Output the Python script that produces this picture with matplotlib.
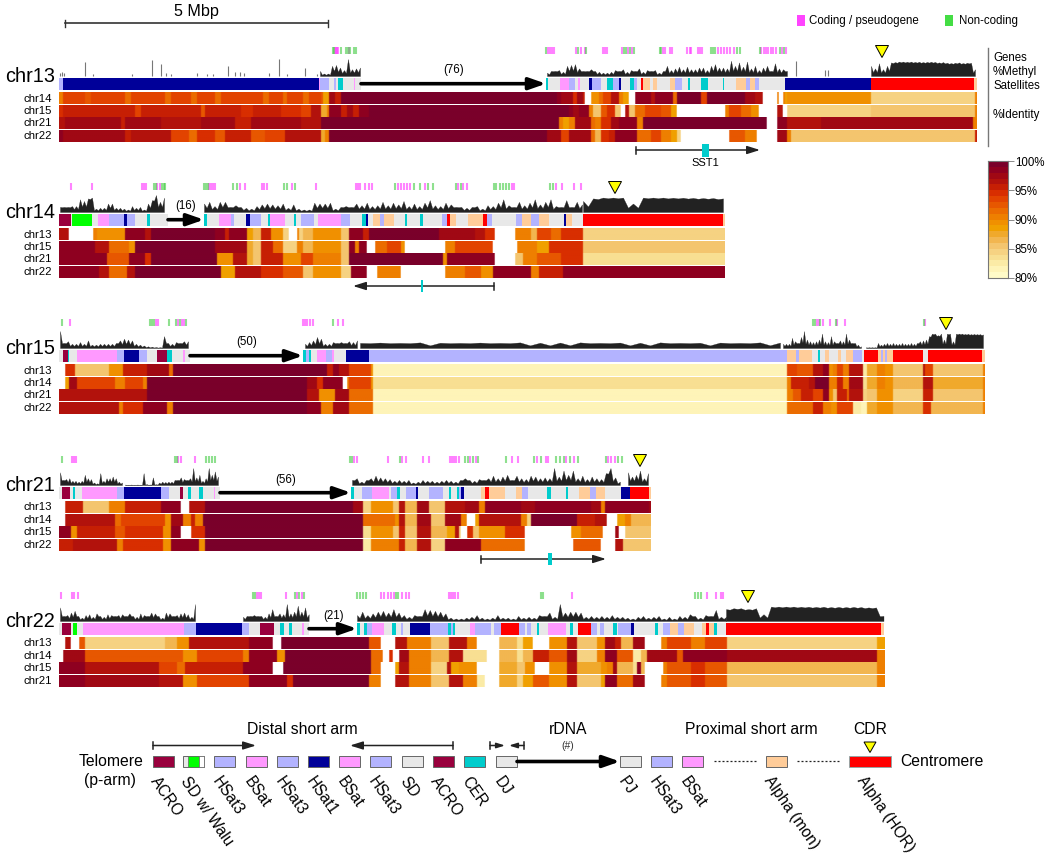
import numpy as np
import matplotlib
matplotlib.use('Agg')
import matplotlib.pyplot as plt
from matplotlib.colors import ListedColormap, Normalize

plt.rcParams['font.family'] = ['Liberation Sans', 'DejaVu Sans']

# x unit everywhere: 1 bin = 19 kb
BIN_KB = 19.0
NA = None
SD, WALU, HS3, BS, HS1, ACRO, CER, MON, HOR = 'SD', 'WALU', 'HS3', 'BS', 'HS1', 'ACRO', 'CER', 'MON', 'HOR'
SAT_COLORS = {SD: '#E8E8E8', WALU: '#00FF00', HS3: '#B3B3FF', BS: '#FF99FF', HS1: '#000099',
              ACRO: '#99003D', CER: '#00CCCC', MON: '#FFCC99', HOR: '#FF0000'}
ID_LEVELS = ['#FFFBC8', '#FEF4B8', '#FBEBA6', '#F8DF92', '#F6D282', '#F4C56E', '#F2B650', '#F0A92C',
             '#F0A000', '#F09000', '#EE7F00', '#EB6C00', '#E75700', '#E24300', '#D82E00', '#C61F04',
             '#B2120C', '#A00814', '#8E0020', '#7A002A']

# ---- chr13 ----
chr13_sat = [(63, HS3), (319, HS1), (320, BS), (329, HS3), (334, SD), (336, HS3), (338, SD), (343, CER), (354, SD), (355, BS), (361, SD),
             (546, NA), (548, CER), (550, SD), (560, SD), (569, BS), (575, HS3), (578, SD), (580, BS), (589, SD), (592, HS1), (601, HS3),
             (607, SD), (613, CER), (619, HS3), (621, HS1), (630, SD), (634, CER), (637, HS3), (641, SD), (643, HOR), (650, MON), (653, SD),
             (657, MON), (670, SD), (675, MON), (682, HS3), (688, SD), (690, CER), (701, SD), (708, CER), (723, SD), (724, CER), (736, SD),
             (746, MON), (750, HS3), (755, MON), (759, HS3), (785, SD), (871, HS1), (974, HOR), (977, MON)]
chr13_r14 = [(62, 90), (85, 93), (90, 92), (125, 93), (130, 91), (165, 93), (170, 91), (190, 93), (196, 91), (214, 93), (220, 91), (262, 93),
             (268, 91), (282, 93), (287, 91), (302, 93), (308, 91), (320, 93), (322, 92), (328, 88), (335, 97), (340, 95), (556, 100), (560, 98),
             (572, 97), (576, 94), (582, 97), (584, 95), (590, NA), (598, 89), (603, 91), (610, 93), (618, 96), (622, 90), (628, 88),
             (635, NA), (650, 98), (655, 96), (672, 98), (677, 91), (700, 99), (706, 93), (745, 99), (755, 97), (762, 96), (777, NA), (779, 90),
             (782, NA), (785, 90), (787, 88), (870, 89), (871, 87), (975, 84), (977, 90)]
chr13_r15 = [(62, 94), (135, 95), (140, 93), (200, 95), (205, 92), (240, 95), (252, 94), (280, 95), (300, 94), (310, 93), (320, 96), (326, 87),
             (329, 90), (340, 98), (346, 95), (352, 97), (358, 95), (368, 98), (568, 100), (572, 98), (578, 97), (588, 98), (592, 90), (600, 85),
             (606, 92), (615, 94), (621, 85), (625, NA), (629, 96), (635, 85), (645, 91), (660, 93), (670, 92), (677, 88), (725, NA), (728, 90),
             (740, 93), (750, 91), (758, 89), (777, NA), (782, 96), (787, NA), (871, 84), (975, 85), (977, 90)]
chr13_r21 = [(65, 96), (120, 97), (125, 95), (160, 97), (190, 96), (200, 96), (235, 97), (250, 95), (300, 97), (320, 96), (559, 100), (563, 90),
             (568, 88), (574, 90), (590, 97), (594, 91), (600, 90), (610, 94), (618, 97), (637, 98), (642, 90), (767, 99), (776, NA), (787, 98),
             (820, 96), (871, 97), (972, 97), (977, 90)]
chr13_r22 = [(63, 98), (125, 97), (130, 95), (170, 96), (188, 93), (196, 91), (215, 94), (225, 92), (250, 95), (265, 92), (285, 93), (320, 96),
             (325, 87), (328, 90), (547, 100), (560, 97), (568, 93), (578, 97), (590, 97), (595, 91), (601, 86), (608, 94), (615, 95), (637, 98),
             (650, 91), (660, 93), (670, 90), (676, 88), (680, 84), (729, NA), (745, 92), (756, 90), (776, NA), (786, 97), (790, 90), (975, 85), (977, 95)]
chr13_rows = [('chr14', chr13_r14), ('chr15', chr13_r15), ('chr21', chr13_r21), ('chr22', chr13_r22)]
chr13_coding = [335, 336, 337, 338, 349, 548, 550, 552, 554, 576, 581, 585, 603, 605, 607, 622, 628, 632, 663, 665, 670, 672, 687, 690, 691, 698, 700, 702,
                718, 721, 724, 727, 730, 734, 761, 764, 766, 768, 771, 773, 776, 782, 786]
chr13_noncoding = [333, 334, 341, 346, 348, 350, 354, 356, 546, 578, 586, 624, 626, 630, 634, 660, 661, 711, 713, 715, 737, 740, 760, 780, 784]
chr13_methyl_sparse = [(60, 20), (62, 25), (64, 15), (85, 80), (93, 10), (132, 10), (152, 95), (161, 70), (166, 15), (171, 10), (197, 15), (207, 10), (213, 10),
                       (228, 60), (235, 25), (240, 25), (244, 20), (269, 15), (279, 100), (287, 10), (305, 50), (317, 10), (796, 90), (825, 35), (828, 35)]
chr13_methyl = [(320, 4, [30, 15, 15, 60, 65, 50, 35, 100, 40, 45, 50]),
                (547, 4, [20, 30, 30, 35, 25, 60, 65, 70, 45, 30, 30, 40, 30, 25, 20, 20, 25, 35, 30, 40, 25, 35, 30, 45, 25, 35, 30, 35, 20, 30, 60, 35, 45,
                          55, 40, 55, 40, 40, 50, 50, 35, 60, 70, 50, 50, 45, 90, 60, 80, 55, 85, 45, 60, 35, 50, 60, 30, 75, 45, 40, 30]),
                (871, 4, [60, 45, 75, 40, 60, 80, 82, 85, 85, 84, 85, 83, 84, 82, 83, 84, 83, 80, 82, 78, 76, 78, 80, 76, 78, 78, 40])]

# ---- chr14 ----
chr14_sat = [(71, ACRO), (72, SD), (92, WALU), (98, SD), (109, BS), (124, HS3), (127, HS1), (135, HS3), (147, SD), (150, CER), (168, SD), (204, NA),
             (207, CER), (219, SD), (231, BS), (234, HS3), (246, SD), (250, HS1), (261, HS3), (268, SD), (270, CER), (285, BS), (294, SD), (296, CER),
             (301, SD), (314, HS3), (318, SD), (341, BS), (350, HS3), (362, SD), (366, CER), (368, HS1), (373, SD), (380, MON), (384, HS3), (394, MON),
             (405, SD), (407, CER), (420, SD), (423, CER), (442, SD), (447, HS3), (450, HOR), (456, MON), (468, SD), (483, MON), (487, HOR), (492, HS3),
             (516, SD), (522, HS3), (531, MON), (539, HS3), (549, MON), (564, SD), (566, HS1), (572, MON), (583, SD), (723, HOR), (725, MON)]
chr14_r13 = [(69, 96), (93, NA), (97, 90), (124, 89), (145, 98), (150, 96), (215, 99), (225, 98), (229, 95), (234, 98), (246, 98), (252, 88), (260, 86),
             (271, 95), (283, 89), (289, 84), (296, NA), (299, 90), (303, 84), (313, 86), (340, 89), (349, 85), (362, 98), (369, 95), (438, 99), (474, 97),
             (484, 96), (494, 94), (514, NA), (530, 90), (537, 86), (550, 93), (560, 91), (583, 94), (725, 84)]
chr14_r15 = [(95, 98), (109, 96), (128, 91), (134, 89), (215, 99), (233, 97), (246, 97), (252, 87), (260, 85), (273, 95), (283, 91), (296, 84), (303, 90),
             (313, 86), (340, 89), (349, 85), (354, 98), (359, 90), (366, 98), (374, NA), (386, 91), (400, 93), (404, 89), (444, NA), (454, 90), (492, 93),
             (516, NA), (537, 90), (548, 88), (583, 94), (725, 85)]
chr14_r21 = [(106, 98), (128, 92), (144, 98), (150, 94), (217, 99), (233, 89), (246, 96), (252, 87), (260, 85), (282, 95), (300, 89), (313, 93), (340, 90),
             (349, 85), (443, 99), (447, 89), (494, 98), (514, NA), (523, 85), (537, 90), (560, 92), (583, 94), (725, 83)]
chr14_r22 = [(99, 98), (108, 96), (126, 91), (135, 96), (220, 99), (234, 88), (260, 96), (283, 94), (303, 92), (313, 85), (340, 89), (350, 84), (366, 98),
             (376, NA), (400, 90), (445, NA), (465, 90), (480, 92), (492, 89), (530, 98), (538, 90), (563, 95), (725, 98)]
chr14_rows = [('chr13', chr14_r13), ('chr15', chr14_r15), ('chr21', chr14_r21), ('chr22', chr14_r22)]
chr14_coding = [71, 92, 142, 144, 146, 157, 160, 209, 211, 213, 215, 240, 245, 262, 264, 267, 292, 316, 356, 358, 360, 365, 369, 372, 398, 401, 404, 407, 410, 425,
                458, 463, 467, 512, 514, 556, 562, 574, 581]
chr14_noncoding = [154, 156, 162, 164, 165, 204, 206, 208, 233, 237, 284, 287, 295, 395, 414, 420, 428, 433, 456, 461, 494, 496, 500, 503, 506, 509, 550, 553]
chr14_methyl = [(60, 4, [30, 30, 30, 35, 35, 75, 65, 80, 85, 20, 25, 25, 50, 50, 25, 25, 20, 15, 35, 25, 30, 15, 50, 70, 100, 60, 85]),
                (204, 5.25, [50, 60, 35, 60, 60, 30, 40, 30, 25, 20, 35, 45, 50, 45, 40, 50, 25, 45, 20, 15, 15, 55, 50, 50, 55, 20, 30, 35, 30, 50, 40, 55, 35, 40,
                             60, 40, 55, 45, 65, 35, 50, 35, 55, 70, 40, 35, 55, 45, 30, 30, 25, 30, 35, 20, 40, 35, 55, 75, 40, 30, 60, 40, 55, 75, 45, 60, 75, 35,
                             30, 70, 30, 60, 45]),
                (583, 10, [65, 80, 85, 85, 85, 50, 85, 85, 85, 84, 84, 83, 82, 82, 80])]

# ---- chr15 ----
chr15_sat = [(63, SD), (68, ACRO), (69, CER), (77, SD), (117, BS), (124, HS3), (139, HS1), (147, HS3), (157, SD), (167, ACRO), (172, CER), (183, SD), (185, BS), (190, SD),
             (303, NA), (306, CER), (309, HS3), (311, CER), (317, SD), (326, BS), (332, HS3), (334, BS), (346, SD), (369, HS1), (787, HS3), (796, MON), (799, HS3),
             (812, MON), (818, SD), (820, CER), (825, SD), (829, MON), (838, SD), (841, MON), (846, SD), (853, MON), (862, HS3), (864, SD), (878, HOR), (881, MON), (883, HS3),
             (885, MON), (887, HS3), (893, MON), (923, HOR), (928, SD), (982, HOR), (985, MON)]
chr15_r13 = [(64, NA), (75, 94), (108, 85), (122, 89), (147, 95), (168, 97), (173, 91), (327, 99), (332, 95), (339, 98), (348, 96), (370, 93), (373, 89), (786, 81),
             (797, 93), (813, 92), (822, 96), (825, 98), (829, 98), (832, 89), (836, 90), (842, 93), (849, 90), (853, 96), (862, 96), (866, 82), (877, 87), (885, 90),
             (893, 89), (922, 85), (925, 96), (932, 93), (983, 85), (985, 90)]
chr15_r14 = [(64, NA), (68, 88), (77, 97), (115, 93), (125, 90), (142, 93), (147, 90), (307, 99), (317, 97), (322, 94), (342, 98), (347, NA), (349, 90), (370, 93),
             (372, 89), (786, 83), (790, 90), (808, 95), (815, 96), (822, 99), (828, 99), (832, 90), (836, 90), (842, 95), (849, 90), (853, 97), (862, 97), (866, 83), (877, 87),
             (885, 90), (893, 89), (922, 86), (932, 96), (983, 87), (985, 90)]
chr15_r21 = [(147, 96), (307, 99), (318, 96), (335, 89), (348, 97), (372, 91), (786, 81), (793, 90), (800, 92), (813, 95), (822, 93), (828, 98), (832, 89), (836, 85), (846, 95),
             (849, 91), (853, 96), (862, 96), (866, 84), (877, 85), (885, 89), (893, 89), (922, 84), (932, 95), (983, 85), (985, 90)]
chr15_r22 = [(67, 96), (118, 96), (123, 90), (142, 94), (167, 98), (173, 90), (307, 99), (320, 98), (333, 90), (348, 97), (372, 91), (786, 81), (813, 91), (823, 95), (830, 90), (836, 89),
             (853, 93), (860, 82), (866, 81), (877, 87), (893, 89), (922, 86), (930, 94), (983, 86), (985, 90)]
chr15_rows = [('chr13', chr15_r13), ('chr14', chr15_r14), ('chr21', chr15_r21), ('chr22', chr15_r22)]
chr15_coding = [70, 156, 158, 178, 182, 184, 303, 305, 307, 310, 313, 338, 343, 817, 819, 823, 830, 837, 845, 925]
chr15_noncoding = [62, 150, 152, 154, 169, 176, 180, 186, 333, 813, 815, 820, 836, 924]
chr15_methyl = [(60, 4, [100, 30, 40, 25, 25, 35, 25, 45, 20, 20, 25, 25, 25, 25, 30, 45, 55, 50, 45, 25, 20, 15, 10, 8, 6, 5, 70, 30, 25, 35, 30, 40, 40]),
                (305, 4, [25, 35, 45, 65, 55, 25, 25, 35, 30, 35, 30, 40, 35, 45]),
                (360, 20, [30, 32, 30, 33, 31, 30, 32, 30, 33, 31, 32, 33, 30, 32, 31, 33, 30, 31, 32, 30, 33, 32]),
                (783, 3, [25, 25, 25, 60, 40, 30, 65, 100, 50, 40, 35, 40, 50, 85, 40, 35, 70, 40, 30, 45, 40, 85, 50, 30, 30, 20, 10]),
                (866, 3, [5, 5, 5, 5, 30, 20, 25, 30, 25, 30, 25, 25, 30, 25, 25, 30, 25, 30, 40, 45, 50, 70, 85, 85, 75, 85, 50, 85, 85, 40, 85, 85, 85, 83, 84, 82, 83, 82, 82, 80])]

# ---- chr21 ----
chr21_sat = [(62, SD), (70, ACRO), (73, SD), (75, CER), (82, SD), (117, BS), (124, HS3), (161, HS1), (169, HS3), (180, SD), (183, ACRO), (188, SD), (191, CER), (199, SD), (203, CER),
             (214, SD), (215, BS), (220, SD), (351, NA), (354, CER), (362, SD), (372, HS3), (389, BS), (391, SD), (397, HS3), (400, CER), (406, SD), (416, HS3), (418, HS1), (429, SD),
             (443, HS3), (449, SD), (451, CER), (457, SD), (459, CER), (461, HS3), (464, HS1), (481, SD), (485, MON), (489, HOR), (497, MON), (505, MON), (516, SD), (522, MON), (528, HS3),
             (547, SD), (551, CER), (566, SD), (568, CER), (579, SD), (590, MON), (596, HS3), (605, MON), (621, SD), (630, HS1), (649, HOR), (651, MON)]
chr21_r13 = [(64, NA), (82, 95), (109, 85), (125, 90), (161, 95), (180, 98), (189, NA), (204, 96), (352, 99), (362, 97), (370, 84), (392, 89), (398, 85), (405, 96), (417, 86), (429, 97),
             (445, 85), (465, 96), (479, 97), (485, 90), (520, 98), (535, 97), (590, 98), (600, 97), (605, 90), (649, 98), (651, 97)]
chr21_r14 = [(64, NA), (115, 96), (121, 91), (165, 93), (170, 89), (182, 97), (190, 90), (194, 95), (202, 90), (362, 99), (370, 91), (394, 91), (398, 89), (405, 96), (417, 86), (431, 97), (445, 85),
             (461, 97), (467, 90), (474, NA), (479, 88), (520, 96), (526, 90), (530, 84), (576, 99), (595, 95), (607, 96), (616, NA), (624, 88), (631, 90), (651, 86)]
chr21_r15 = [(71, 98), (77, 89), (115, 95), (125, 92), (163, 94), (170, 89), (180, 98), (190, NA), (204, 94), (362, 99), (370, 83), (392, 89), (398, 85), (405, 95), (417, 85), (431, 96), (447, 86),
             (454, 88), (459, 96), (461, 84), (467, NA), (472, 94), (479, 85), (505, 89), (524, 94), (570, NA), (580, 89), (603, 91), (615, NA), (619, 97), (624, NA), (651, 85)]
chr21_r22 = [(72, 95), (117, 96), (123, 90), (163, 94.5), (170, 89), (198, 98), (204, 89), (362, 99), (370, 82), (398, 90), (405, 95), (417, 86), (431, 96), (445, 84), (481, 98), (524, 91), (572, NA),
             (601, 92), (615, NA), (623, 96), (651, 85)]
chr21_rows = [('chr13', chr21_r13), ('chr14', chr21_r14), ('chr15', chr21_r15), ('chr22', chr21_r22)]
chr21_coding = [72, 74, 76, 178, 181, 195, 354, 357, 388, 402, 406, 423, 429, 450, 452, 454, 456, 459, 470, 476, 512, 518, 537, 546, 548, 566, 574, 608, 611, 615]
chr21_noncoding = [62, 175, 177, 206, 209, 212, 215, 350, 352, 400, 465, 468, 473, 478, 506, 534, 541, 556, 560, 564, 570, 578, 606, 618, 622]
chr21_methyl = [(60, 3.1, [75, 30, 35, 40, 25, 25, 20, 25, 60, 40, 35, 15, 10, 70, 25, 40, 40, 50, 40, 20, 15]),
                (125, 3.1, [3, 2, 3, 2, 3, 2, 70, 5, 3, 45, 5, 15, 20, 18, 20, 20, 30, 30, 45, 35, 30, 40, 100, 45, 60, 25, 40, 100, 60, 80, 50]),
                (352, 4.7, [30, 40, 20, 30, 40, 55, 45, 40, 35, 25, 30, 25, 30, 15, 20, 30, 25, 25, 20, 25, 30, 25, 20, 30, 40, 30, 25, 35, 30, 40, 55, 40, 50, 60, 30, 55, 40, 35, 55, 50, 40,
                            45, 40, 100, 50, 85, 60, 85, 40, 55, 35, 50, 40, 35, 70, 100, 45, 20]),
                (628, 4, [75, 50, 60, 85, 40, 70])]

# ---- chr22 ----
chr22_sat = [(62, SD), (71, ACRO), (73, SD), (77, WALU), (83, SD), (184, BS), (196, HS3), (242, HS1), (249, HS3), (260, SD), (274, ACRO), (280, SD), (284, CER), (289, SD), (292, CER), (302, SD), (304, BS), (309, SD),
             (357, NA), (360, CER), (364, SD), (367, CER), (372, HS3), (384, BS), (392, SD), (396, CER), (401, SD), (403, HS3), (410, SD), (430, HS1), (448, HS3), (451, CER), (453, HS3), (455, CER), (470, SD), (475, BS),
             (491, HS3), (494, SD), (501, HS3), (519, HOR), (525, HS3), (527, SD), (531, HS3), (537, SD), (539, CER), (548, SD), (566, BS), (570, SD), (573, CER), (578, SD), (591, HOR), (597, HS3), (600, SD), (604, HS3),
             (613, SD), (617, CER), (618, SD), (631, HS3), (634, HS1), (645, SD), (655, SD), (658, CER), (663, SD), (670, HS3), (678, MON), (684, HS3), (694, MON), (702, SD), (706, MON), (709, HOR), (714, MON), (717, CER), (726, SD),
             (881, HOR), (884, MON)]
chr22_r13 = [(64, NA), (71, 96), (79, NA), (84, 92), (164, 84), (177, 86), (189, 89), (248, 96), (273, 98), (281, NA), (368, 99), (380, 92), (394, NA), (407, 96), (430, 90), (448, 85), (466, 96), (477, 90), (498, NA),
             (517, 86), (523, 83), (533, 88), (548, NA), (567, 89), (577, 96), (597, 85), (604, 89), (615, 97), (620, 95), (633, 86), (645, 97), (660, NA), (667, 90), (690, 93), (705, 90), (727, 93), (877, 84), (884, 88)]
chr22_r14 = [(62, NA), (84, 97), (182, 92.5), (196, 89), (243, 93), (248, 90), (277, 98), (284, 89), (370, 99), (382, 91), (388, NA), (393, 94), (399, NA), (409, 97), (430, 90), (448, 86), (462, 96), (486, 83), (498, NA),
             (517, 86), (523, 83), (532, 86), (548, 95), (567, 92), (577, 97), (597, 84), (604, 90), (617, 98), (633, 92), (640, 82), (647, 86), (677, 97), (683, 92), (727, 98), (877, 97.5), (884, 90)]
chr22_r15 = [(84, 98), (159, 96.5), (177, 93), (184, 91), (243, 95), (273, 98), (282, NA), (370, 99), (380, 91), (394, NA), (398, 88), (409, 96), (430, 90), (446, 84), (451, 96), (459, 88), (477, 89), (498, NA),
             (517, 87), (524, 85), (534, 89), (548, NA), (567, 89), (577, 96), (600, 87), (606, 89), (612, 90), (617, 97), (632, 86), (636, 83), (641, 98), (645, 86), (662, NA), (667, 90), (690, 92), (705, 94), (727, 92), (877, 86), (884, 90)]
chr22_r21 = [(84, 98), (159, 97), (182, 96), (196, 89), (248, 93.5), (286, 98), (293, 94), (368, 99), (381, 90), (394, NA), (409, 96), (430, 90), (448, 85), (462, 96), (477, 90), (484, 82), (498, NA),
             (517, 87), (523, 84), (532, 88), (548, 92), (567, 89), (577, 96), (600, 85), (604, 88), (617, 98), (633, 91), (645, 97), (660, NA), (667, 90), (690, 92), (705, 94), (727, 92), (877, 85), (884, 90)]
chr22_rows = [('chr13', chr22_r13), ('chr14', chr22_r14), ('chr15', chr22_r15), ('chr21', chr22_r21)]
chr22_coding = [61, 72, 74, 78, 257, 259, 261, 286, 297, 302, 381, 384, 388, 391, 394, 402, 406, 409, 449, 451, 453, 455, 458, 572, 707, 716, 721, 723]
chr22_noncoding = [253, 255, 295, 299, 304, 357, 360, 363, 366, 396, 398, 541, 543, 695, 698, 701]
chr22_methyl = [(60, 3.65, [80, 30, 35, 50, 60, 30, 20, 35, 40, 25, 45, 30, 25, 40, 35, 30, 35, 40, 30, 45, 30, 25, 45, 35, 30, 50, 45, 30, 20, 50, 45, 30, 35, 45, 50, 40, 25, 100]),
                (243, 3.65, [25, 30, 30, 35, 30, 30, 25, 45, 70, 30, 45, 40, 100, 45, 55, 90, 55, 80, 40]),
                (357, 5.2, [35, 55, 35, 45, 55, 60, 50, 70, 50, 35, 25, 35, 30, 70, 65, 60, 55, 45, 20, 15, 15, 20, 25, 35, 20, 15, 20, 35, 20, 20, 15, 30, 20, 25, 20, 35, 30, 50, 25, 100, 50, 55, 55, 50, 25, 30, 25, 30, 25, 35, 25, 25, 20, 15, 25, 30, 20,
                            25, 30, 15, 25, 15, 30, 25, 40, 30, 20, 35, 30, 65, 25, 25]),
                (726, 7.5, [70, 75, 75, 70, 75, 40, 85, 85, 85, 85, 84, 84, 83, 84, 82, 83, 82, 83, 82, 80, 80, 30])]

PANELS = [
    dict(name='chr13', top=47, sat=chr13_sat, rows=chr13_rows, coding=chr13_coding, noncoding=chr13_noncoding, methyl=chr13_methyl, sparse=chr13_methyl_sparse,
         rdna=(361, 546, '(76)'), cdr=882),
    dict(name='chr14', top=183, sat=chr14_sat, rows=chr14_rows, coding=chr14_coding, noncoding=chr14_noncoding, methyl=chr14_methyl, sparse=[],
         rdna=(168, 204, '(16)'), cdr=615),
    dict(name='chr15', top=319, sat=chr15_sat, rows=chr15_rows, coding=chr15_coding, noncoding=chr15_noncoding, methyl=chr15_methyl, sparse=[],
         rdna=(190, 303, '(50)'), cdr=946),
    dict(name='chr21', top=456, sat=chr21_sat, rows=chr21_rows, coding=chr21_coding, noncoding=chr21_noncoding, methyl=chr21_methyl, sparse=[],
         rdna=(220, 351, '(56)'), cdr=640),
    dict(name='chr22', top=592, sat=chr22_sat, rows=chr22_rows, coding=chr22_coding, noncoding=chr22_noncoding, methyl=chr22_methyl, sparse=[],
         rdna=(309, 357, '(21)'), cdr=748),
]

# key along the bottom
key_names = ['ACRO', 'SD w/ Walu', 'HSat3', 'BSat', 'HSat3', 'HSat1', 'BSat', 'HSat3', 'SD', 'ACRO', 'CER', 'DJ']
key_cols = [ACRO, WALU, HS3, BS, HS3, HS1, BS, HS3, SD, ACRO, CER, SD]
key_names2 = ['PJ', 'HSat3', 'BSat', 'Alpha (mon)']
key_cols2 = [SD, HS3, BS, MON]
key_x = [153, 183, 214, 246, 277, 308, 339, 370, 402, 433, 464, 496]
key_x2 = [620, 651, 682, 766]

fig = plt.figure(figsize=(10.5, 8.6), dpi=100)
ax = fig.add_axes([0, 0, 1, 1])
ax.axis('off')

cmap = ListedColormap(ID_LEVELS)
cmap.set_bad('white', 0)
norm = Normalize(80, 100)
BLACK = '#222222'


def triangle(x, y0, w=6.5, h=12):
    ax.fill([x - w, x + w, x], [y0, y0, y0 + h], facecolor='#FFFF00', edgecolor='black', lw=0.7, zorder=6)


def draw_arrow(x0, x1, y, lw=2.6, head=9):
    ax.annotate('', xy=(x1, y), xytext=(x0, y),
                arrowprops=dict(arrowstyle='-|>,head_width=0.28,head_length=0.8', lw=lw, color='black', shrinkA=0, shrinkB=0, mutation_scale=head * 1.4))


def thin_span(x0, x1, y, scale=11):
    # arrow from x0 to x1, flat bar at x0
    ax.annotate('', xy=(x1, y), xytext=(x0, y),
                arrowprops=dict(arrowstyle='-|>,head_width=0.22,head_length=0.7', lw=1.1, color='#222222', shrinkA=0, shrinkB=0, mutation_scale=scale))
    ax.plot([x0, x0], [y - 3.5, y + 3.5], color='#222222', lw=1.1)


def jagged(xs, vals):
    # a notch between neighbouring values, so the track reads as separate peaks
    # high plateaus (the HOR arrays) only get a shallow one
    px, py = [], []
    for i in range(len(xs)):
        px.append(xs[i])
        py.append(vals[i])
        if i < len(xs) - 1:
            low = min(vals[i], vals[i + 1])
            px.append((xs[i] + xs[i + 1]) / 2.0)
            py.append(low * (0.95 if low >= 70 or low == 30 else 0.5))
    return np.array(px), np.array(py)


for p in PANELS:
    top = p['top']
    base = top + 29
    sat_top = top + 30.5
    heat_top = top + 45.5

    # genes
    ax.vlines(p['coding'], top, top + 6.5, color='#FF33FF', lw=1.5, alpha=0.6)
    ax.vlines(p['noncoding'], top, top + 6.5, color='#44CC44', lw=1.5, alpha=0.6)

    # methylation
    for start, step, vals in p['methyl']:
        xs = start + step * np.arange(len(vals))
        px, py = jagged(xs, vals)
        ax.fill_between(px, base - py * 0.17, base, color=BLACK, lw=0.2)
    for x, v in p['sparse']:
        ax.vlines(x, base - v * 0.17, base, color='#777777', lw=0.8)

    # satellites
    left = 59
    for end, kind in p['sat']:
        if kind is not NA:
            ax.bar(left, 12.5, width=end - left, bottom=sat_top, align='edge', color=SAT_COLORS[kind], lw=0)
        left = end

    # rDNA
    r0, r1, lab = p['rdna']
    draw_arrow(r0, r1, sat_top + 6.2)
    ax.text((r0 + r1) / 2.0, sat_top - 7, lab, ha='center', va='center', fontsize=8.3, color='black')

    # identity rows
    for i, (rowname, segs) in enumerate(p['rows']):
        edges = np.array([59] + [s[0] for s in segs])
        vals = np.array([np.nan if s[1] is None else s[1] for s in segs], dtype=float)
        per_bin = np.repeat(vals, np.diff(edges))
        # every second bin, upsampled: softens the block edges like the source picture
        cells = per_bin[::2]
        y0 = heat_top + i * 12.45
        y1 = y0 + 11.9
        ax.imshow(cells[np.newaxis, :], extent=(edges[0], edges[0] + 2 * len(cells), y1, y0), aspect='auto', cmap=cmap, norm=norm,
                  interpolation='hanning', interpolation_stage='rgba', zorder=1)
        ax.text(52, y0 + 6, rowname, ha='right', va='center', fontsize=8.2, color='black')

    ax.text(55, sat_top - 1, p['name'], ha='right', va='center', fontsize=14.3, color='black')
    triangle(p['cdr'], top - 1.5)

# scale bar
bar_bins = 5000.0 / BIN_KB
ax.plot([65, 65 + bar_bins], [23, 23], color='#333333', lw=1.2)
ax.plot([65, 65], [19.5, 26.5], color='#333333', lw=1)
ax.plot([65 + bar_bins, 65 + bar_bins], [19.5, 26.5], color='#333333', lw=1)
ax.text(65 + bar_bins / 2, 11.5, '5 Mbp', ha='center', va='center', fontsize=11.6)

# top legend
ax.bar(797, 11, width=8, bottom=15, align='edge', color='#FF44FF', lw=0)
ax.text(809, 21, 'Coding / pseudogene', ha='left', va='center', fontsize=8.3)
ax.bar(945, 11, width=8, bottom=15, align='edge', color='#44DD44', lw=0)
ax.text(959, 21, 'Non-coding', ha='left', va='center', fontsize=8.3)

# right hand bracket and track names
ax.plot([988, 988], [48, 146], color='#777777', lw=1)
for lab, y in zip(['Genes', '%Methyl', 'Satellites', '%Identity'], [58, 72, 86, 115]):
    ax.text(993, y, lab, ha='left', va='center', fontsize=8.3)

# SST1 spans
thin_span(636, 760, 150)
ax.bar(702, 13, width=6.5, bottom=144, align='edge', color=SAT_COLORS[CER], lw=0, zorder=5)
ax.text(705, 163.5, 'SST1', ha='center', va='center', fontsize=8)
thin_span(494, 353, 286)
ax.bar(421, 12, width=2, bottom=280, align='edge', color=SAT_COLORS[CER], lw=0, zorder=5)
thin_span(481, 606, 559)
ax.bar(548, 12, width=3.5, bottom=553, align='edge', color=SAT_COLORS[CER], lw=0, zorder=5)

# colour bar
cax = fig.add_axes([988 / 1050.0, 1 - 278 / 860.0, 20 / 1050.0, 117 / 860.0])
cax.pcolormesh([0, 1], np.arange(80, 101), (np.arange(80, 100) + 0.5)[:, np.newaxis], cmap=cmap, norm=norm, shading='flat')
cax.set_xticks([])
cax.yaxis.tick_right()
cax.set_yticks([80, 85, 90, 95, 100])
cax.set_yticklabels(['80%', '85%', '90%', '95%', '100%'], fontsize=8.3)
cax.tick_params(axis='y', length=4, width=0.6, color='#777777', pad=1)
for s in cax.spines.values():
    s.set_color('#777777')
    s.set_linewidth(0.8)

# bottom key
KEY_H = 11
KEY_Y = 756
for x, name, kind in zip(key_x, key_names, key_cols):
    col = SD if kind == WALU else kind
    ax.bar(x, KEY_H, width=21, bottom=KEY_Y, align='edge', color=SAT_COLORS[col], edgecolor='#666666', lw=0.7)
    if kind == WALU:
        ax.bar(x + 5, KEY_H, width=10.5, bottom=KEY_Y, align='edge', color=SAT_COLORS[WALU], edgecolor='#666666', lw=0.5)
        ax.bar(x + 15.5, KEY_H, width=5.5, bottom=KEY_Y, align='edge', color='white', edgecolor='#666666', lw=0.5)
    ax.text(x + 1, 778, name, rotation=-55, ha='left', va='center', rotation_mode='anchor', fontsize=11.2)
for x, name, kind in zip(key_x2, key_names2, key_cols2):
    ax.bar(x, KEY_H, width=21, bottom=KEY_Y, align='edge', color=SAT_COLORS[kind], edgecolor='#666666', lw=0.7)
    ax.text(x + 1, 778, name, rotation=-55, ha='left', va='center', rotation_mode='anchor', fontsize=11.2)
ax.bar(849, KEY_H, width=42, bottom=KEY_Y, align='edge', color=SAT_COLORS[HOR], edgecolor='#88AAAA', lw=0.6)
ax.text(860, 778, 'Alpha (HOR)', rotation=-55, ha='left', va='center', rotation_mode='anchor', fontsize=11.2)
draw_arrow(517, 620, 761.5)
ax.plot([714, 756], [761, 761], color='#222222', lw=0.9, ls=(0, (1.6, 1.6)))
ax.plot([797, 839], [761, 761], color='#222222', lw=0.9, ls=(0, (1.6, 1.6)))

ax.text(143.5, 761, 'Telomere', ha='right', va='center', fontsize=11.3)
ax.text(110, 781, '(p-arm)', ha='center', va='center', fontsize=11.3)
ax.text(900, 761, 'Centromere', ha='left', va='center', fontsize=11.3)
ax.text(302, 729.5, 'Distal short arm', ha='center', va='center', fontsize=11.3)
ax.text(568, 729.5, 'rDNA', ha='center', va='center', fontsize=11.3)
ax.text(568, 746, '(#)', ha='center', va='center', fontsize=7.5, color='#333333')
ax.text(751, 729.5, 'Proximal short arm', ha='center', va='center', fontsize=11.3)
ax.text(870, 729.5, 'CDR', ha='center', va='center', fontsize=11.3)
triangle(870, 742, w=6, h=10.5)
thin_span(153, 256, 745.5)
thin_span(453, 350, 745.5)
thin_span(490, 505, 745.5, scale=7)
thin_span(524, 509, 745.5, scale=7)

# imshow resets the limits, so the page coordinates go last
ax.set_xlim(0, 1050)
ax.set_ylim(860, 0)
ax.set_aspect('auto')

fig.savefig('out.png', dpi=100)
